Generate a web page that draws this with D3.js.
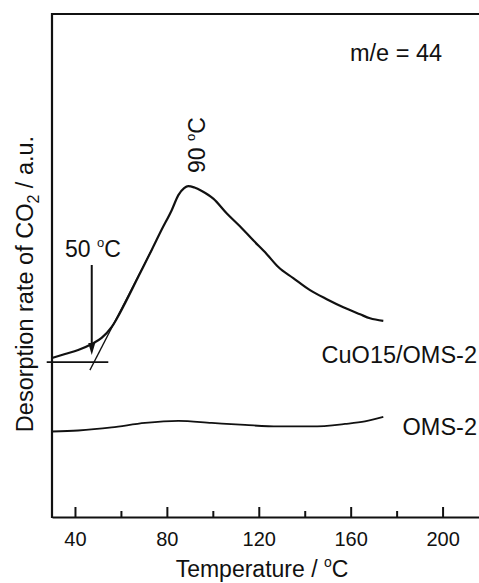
<!DOCTYPE html>
<html>
<head>
<meta charset="utf-8">
<script src="https://cdn.jsdelivr.net/npm/d3@7"></script>
<style>
  html, body { margin: 0; padding: 0; background: #fff; }
  svg { display: block; }
  text { font-family: "Liberation Sans", Arial, Helvetica, sans-serif; fill: #111; }
</style>
</head>
<body>
<svg id="chart" width="479" height="583"></svg>
<script>
// ---- data ----
const majorTicks = [40, 80, 120, 160, 200];
const minorTicks = [60, 100, 140, 180];

const cuoTemp = [30, 35.7, 41.4, 47.3, 51.6, 56.0, 61.8, 67.6, 73.4, 77.7, 82.1, 85.0, 87.5, 89.3, 92.0, 95.2, 100.2, 106.0, 111.8, 117.6, 123.4, 128.5, 135.0, 142.3, 149.6, 156.8, 164.1, 168.4, 174.2];
const cuoRate = [31.6, 32.4, 33.2, 34.4, 35.6, 37.8, 42.5, 47.8, 53.1, 57.1, 61.0, 64.0, 65.4, 65.8, 65.5, 64.8, 63.3, 60.4, 57.8, 55.0, 52.3, 49.7, 47.5, 45.1, 43.3, 41.7, 40.3, 39.5, 39.0];

const omsTemp = [30, 41.4, 56.0, 70.5, 85.0, 99.5, 114.0, 128.5, 143.0, 157.5, 166.2, 174.2];
const omsRate = [17.0, 17.2, 17.8, 18.7, 19.1, 18.7, 18.3, 18.0, 18.0, 18.5, 19.0, 19.9];

// onset construction (temperature, rate)
const baselineT = [27.7, 54.5];
const baselineR = [30.8, 30.8];
const tangentT = [46.5, 73.4];
const tangentR = [29.2, 53.1];
const arrowT = 47.3;
const arrowR = [50.1, 32.2];

const seriesLabels = ["CuO15/OMS-2", "OMS-2"];

// ---- drawing ----
const svg = d3.select("#chart");
const x = d3.scaleLinear().domain([30, 220]).range([52, 52 + 190 * 2.2975]);
const y = d3.scaleLinear().domain([0, 100]).range([517, 14]);

const ink = "#111";

// frame: left, top
svg.append("line").attr("x1", 52).attr("x2", 52).attr("y1", 13).attr("y2", 518)
  .attr("stroke", ink).attr("stroke-width", 2.2);
svg.append("line").attr("x1", 51).attr("x2", 479).attr("y1", 14).attr("y2", 14)
  .attr("stroke", ink).attr("stroke-width", 2.2);

// bottom axis major
const axisMajor = d3.axisBottom(x).tickValues(majorTicks).tickSizeInner(-10).tickSizeOuter(0).tickPadding(15);
const gx = svg.append("g").attr("transform", `translate(0,${y(0)})`).call(axisMajor);
gx.select(".domain").attr("stroke", ink).attr("stroke-width", 2.2);
gx.selectAll(".tick line").attr("stroke", ink).attr("stroke-width", 2);
gx.selectAll(".tick text").attr("font-size", 20).attr("fill", ink)
  .attr("font-family", "Liberation Sans, Arial, sans-serif").attr("dy", "0.71em");

const axisMinor = d3.axisBottom(x).tickValues(minorTicks).tickSizeInner(-6).tickSizeOuter(0).tickFormat("");
const gm = svg.append("g").attr("transform", `translate(0,${y(0)})`).call(axisMinor);
gm.select(".domain").remove();
gm.selectAll(".tick line").attr("stroke", ink).attr("stroke-width", 2);

// curves
const line = d3.line().x(d => x(d[0])).y(d => y(d[1])).curve(d3.curveMonotoneX);
const cuo = cuoTemp.map((t, i) => [t, cuoRate[i]]);
const oms = omsTemp.map((t, i) => [t, omsRate[i]]);

svg.append("path").datum(cuo).attr("d", line).attr("fill", "none")
  .attr("stroke", ink).attr("stroke-width", 2.2).attr("stroke-linejoin", "round");
svg.append("path").datum(oms).attr("d", line).attr("fill", "none")
  .attr("stroke", ink).attr("stroke-width", 1.8).attr("stroke-linejoin", "round");

// baseline & tangent
svg.append("line").attr("x1", x(baselineT[0])).attr("x2", x(baselineT[1]))
  .attr("y1", y(baselineR[0])).attr("y2", y(baselineR[1])).attr("stroke", ink).attr("stroke-width", 1.6);
svg.append("line").attr("x1", x(tangentT[0])).attr("x2", x(tangentT[1]))
  .attr("y1", y(tangentR[0])).attr("y2", y(tangentR[1])).attr("stroke", ink).attr("stroke-width", 1.3);

// arrow
const ax = x(arrowT), ay0 = y(arrowR[0]), ay1 = y(arrowR[1]);
svg.append("line").attr("x1", ax).attr("x2", ax).attr("y1", ay0).attr("y2", ay1 - 10)
  .attr("stroke", ink).attr("stroke-width", 2);
svg.append("path").attr("d", `M${ax - 3.5},${ay1 - 12} L${ax + 3.5},${ay1 - 12} L${ax},${ay1} Z`).attr("fill", ink);

// text annotations
function degText(g, before, after, size, supSize) {
  g.append("tspan").text(before);
  g.append("tspan").text("o").attr("font-size", supSize).attr("dy", -size * 0.42);
  g.append("tspan").text(after).attr("dy", size * 0.42);
}

const t50 = svg.append("text").attr("x", 65).attr("y", 257).attr("font-size", 23);
degText(t50, "50 ", "C", 23, 13);

const t90 = svg.append("text").attr("transform", "translate(205,173) rotate(-90)").attr("font-size", 23);
degText(t90, "90 ", "C", 23, 13);

svg.append("text").attr("x", 350).attr("y", 61).attr("font-size", 23.5).text("m/e = 44");

svg.append("text").attr("x", 477).attr("y", 363).attr("font-size", 23.5).attr("text-anchor", "end").text(seriesLabels[0]);
svg.append("text").attr("x", 477).attr("y", 435).attr("font-size", 23.5).attr("text-anchor", "end").text(seriesLabels[1]);

// axis titles
const xt = svg.append("text").attr("x", 262).attr("y", 577).attr("font-size", 23).attr("text-anchor", "middle");
degText(xt, "Temperature / ", "C", 23, 14);

const yt = svg.append("text").attr("transform", "translate(33,284) rotate(-90)").attr("font-size", 23.5).attr("text-anchor", "middle");
yt.append("tspan").text("Desorption rate of CO");
yt.append("tspan").text("2").attr("font-size", 16).attr("dy", 6);
yt.append("tspan").text("  / a.u.").attr("dy", -6);
</script>
</body>
</html>
